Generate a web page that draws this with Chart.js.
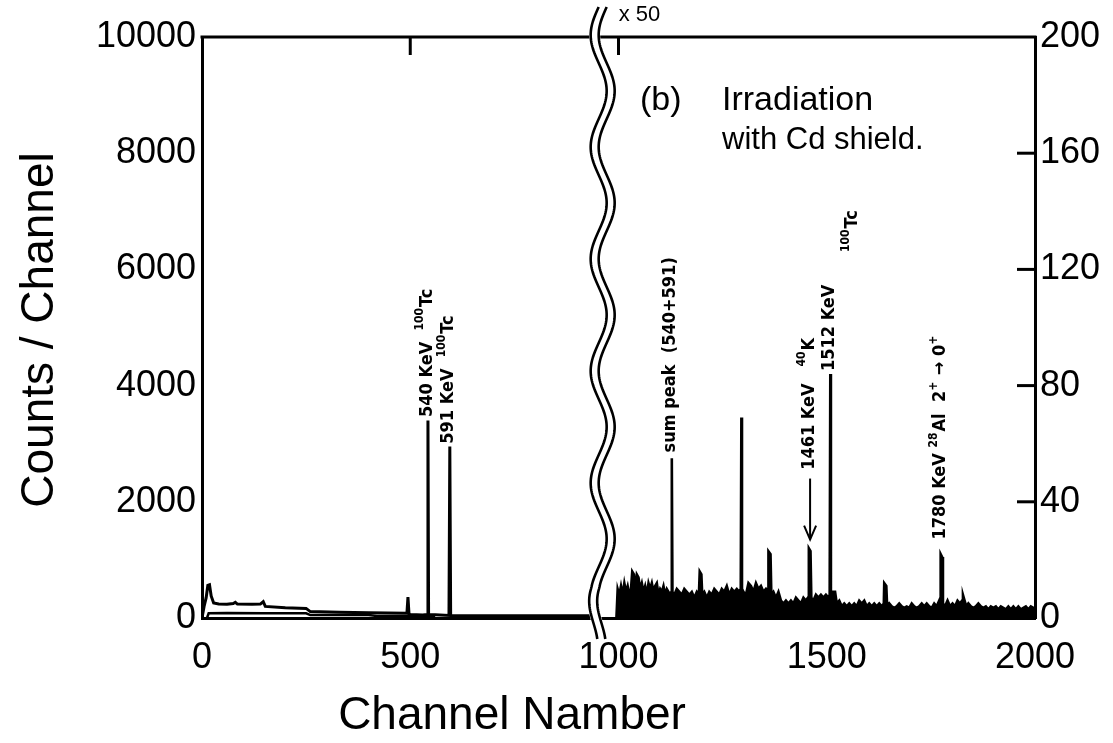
<!DOCTYPE html>
<html>
<head>
<meta charset="utf-8">
<script src="https://cdn.jsdelivr.net/npm/chart.js@4/dist/chart.umd.min.js"></script>
<style>
  html, body { margin: 0; padding: 0; background: #fff; }
  #wrap { width: 1113px; height: 743px; }
</style>
</head>
<body>
<div id="wrap"><canvas id="spectrum" width="1113" height="743"></canvas></div>
<script>
// channel ticks and axis ranges
const xTicks = [0, 500, 1000, 1500, 2000];
const leftTicks = [0, 2000, 4000, 6000, 8000, 10000];
const rightTicks = [0, 40, 80, 120, 160, 200];

// low part of the spectrum, counts/channel (left scale)
const lowChannels = [0, 5, 10, 14, 18, 22, 28, 40, 60, 75, 80, 85, 120, 140, 147, 152, 200, 250, 260, 330, 400, 492, 494.5, 497, 500, 530, 541, 542.5, 544, 560, 593, 595, 597, 620, 700, 800, 935];
const lowCounts = [0, 200, 350, 560, 570, 380, 260, 240, 235, 250, 270, 240, 235, 240, 280, 200, 175, 165, 110, 100, 90, 80, 360, 70, 60, 50, 60, 3400, 60, 55, 45, 2950, 45, 40, 40, 40, 40];
// lower trace of the low part
const lowTraceChannels = [12, 16, 60, 150, 250, 260, 400, 420, 560];
const lowTraceCounts = [0, 80, 85, 80, 80, 50, 50, 35, 35];

// high part, drawn x 50 (right scale)
const highChannels = [
  995, 998, 1002, 1006, 1010, 1014, 1018, 1022, 1026, 1030, 1033, 1037, 1040, 1044, 1048, 1052, 1056, 1060,
  1064, 1068, 1072, 1076, 1080, 1084, 1088, 1092, 1096, 1100, 1104, 1108, 1112, 1116, 1120, 1124, 1127, 1128,
  1129.5, 1134, 1140, 1146, 1152, 1158, 1164, 1170, 1176, 1182, 1188, 1193, 1195, 1199, 1201, 1206, 1212, 1218,
  1224, 1230, 1236, 1242, 1248, 1254, 1260, 1266, 1272, 1278, 1284, 1290, 1293.5, 1295, 1296.5, 1300, 1306, 1312,
  1318, 1324, 1330, 1336, 1342, 1348, 1354, 1359, 1360, 1365, 1367, 1372, 1378, 1384, 1390, 1396, 1402, 1408,
  1414, 1420, 1426, 1432, 1438, 1444, 1450, 1455, 1457, 1461, 1463, 1468, 1474, 1480, 1486, 1492, 1498, 1504,
  1507, 1508.5, 1510, 1514, 1520, 1524, 1530, 1536, 1542, 1548, 1554, 1560, 1566, 1572, 1578, 1584, 1590, 1596,
  1602, 1608, 1614, 1620, 1626, 1632, 1637, 1638, 1643, 1645, 1650, 1656, 1662, 1668, 1674, 1680, 1686, 1692,
  1698, 1704, 1710, 1716, 1722, 1728, 1734, 1740, 1746, 1752, 1758, 1764, 1770, 1772, 1773.5, 1777, 1779, 1784,
  1790, 1796, 1802, 1808, 1814, 1820, 1825, 1827, 1831, 1835, 1840, 1846, 1852, 1858, 1864, 1870, 1876, 1882,
  1888, 1894, 1900, 1906, 1912, 1918, 1924, 1930, 1936, 1942, 1948, 1954, 1960, 1966, 1972, 1978, 1984, 1990,
  1996, 2000
];
const highCounts = [
  0, 10, 8, 11, 8, 12, 9, 11, 8, 10, 16, 15, 9, 15, 14, 10, 12, 9,
  11, 8, 12, 10, 12, 9, 11, 12, 8, 10, 9, 11, 8, 10, 9, 8, 9, 55,
  9, 8, 10, 9, 8, 10, 9, 8, 9, 7, 9, 8, 16, 15, 8, 9, 7, 9,
  8, 10, 9, 8, 10, 9, 11, 8, 10, 9, 10, 9, 10, 69, 10, 9, 8, 12,
  11, 9, 12, 10, 11, 9, 10, 9, 23, 22, 8, 9, 7, 9, 6, 5, 6, 5,
  6, 5, 7, 6, 5, 7, 6, 7, 24, 23, 7, 6, 8, 7, 8, 7, 8, 7,
  8, 84, 8, 9, 9, 5, 6, 4, 5, 4, 5, 4, 5, 4, 6, 5, 6, 4,
  5, 4, 5, 4, 5, 4, 5, 12, 11, 4, 5, 4, 3.5, 4, 5, 4, 3.5, 4,
  3.5, 5, 4, 3.5, 4, 5, 4, 5, 4, 3.5, 5, 4, 6, 5, 22, 21, 5, 4,
  6, 4, 5, 4, 6, 5, 6, 8, 6, 4, 5, 4, 3.5, 4, 5, 4, 3.5, 4,
  3, 4, 3.5, 4, 3, 4, 3.5, 3, 4, 3, 4, 3, 4, 3, 3.5, 4, 3, 4,
  3.5, 3.5
];

// peak annotations: text parts [text, superscript], channel, value where the text starts, axis
const peakTexts = [
  [['540 KeV  ', false], ['100', true], ['Tc', false]],
  [['591 KeV  ', false], ['100', true], ['Tc', false]],
  [['sum peak  (540+591)', false]],
  [['1461 KeV   ', false], ['40', true], ['K', false]],
  [['1512 KeV', false]],
  [['1780 KeV ', false], ['28', true], ['Al  2', false], ['+', true], [' \u2192 0', false], ['+', true]]
];
const peakChannels = [542.5, 595, 1128, 1460, 1508.5, 1775];
const peakTextAt = [3460, 3000, 57, 51, 85, 27];
const peakAxes = ['y', 'y', 'y2', 'y2', 'y2', 'y2'];

const breakChannel = 962;

const labelFamily = '"DejaVu Sans Condensed", "DejaVu Sans", sans-serif';
const textFamily = '"Liberation Sans", Arial, sans-serif';

function pts(xs, ys) {
  return xs.map((v, i) => ({ x: v, y: ys[i] }));
}

function line(ctx, x1, y1, x2, y2) {
  ctx.beginPath();
  ctx.moveTo(x1, y1);
  ctx.lineTo(x2, y2);
  ctx.stroke();
}

function drawVertical(ctx, parts, x, y, size) {
  ctx.save();
  ctx.translate(x, y);
  ctx.rotate(-Math.PI / 2);
  ctx.textAlign = 'left';
  ctx.textBaseline = 'middle';
  let cx = 0;
  parts.forEach(([t, sup]) => {
    ctx.font = 'bold ' + (sup ? Math.round(size * 0.65) : size) + 'px ' + labelFamily;
    ctx.fillText(t, cx, sup ? -size * 0.38 : 0);
    cx += ctx.measureText(t).width + (sup ? 1 : 0);
  });
  ctx.restore();
}

const decorations = {
  id: 'decorations',
  afterDraw(chart) {
    const { ctx, chartArea: a, scales: { x, y, y2 } } = chart;
    ctx.save();
    ctx.strokeStyle = '#000';
    ctx.fillStyle = '#000';
    ctx.lineWidth = 3;
    ctx.lineCap = 'butt';

    // top frame and inner ticks
    line(ctx, a.left - 1.5, a.top, a.right + 1.5, a.top);
    [500, 1000].forEach(c => {
      const px = x.getPixelForValue(c);
      line(ctx, px, a.top, px, a.top + 18);
    });
    rightTicks.slice(1, -1).forEach(v => {
      const py = y2.getPixelForValue(v);
      line(ctx, a.right - 18, py, a.right, py);
    });

    // axis break (double wavy line)
    const bx = x.getPixelForValue(breakChannel);
    const y0 = a.top - 30, y1 = a.bottom + 22;
    const wave = (yy) => bx - 8 * Math.sin(2 * Math.PI * (yy - y0) / 112) - (yy > a.bottom - 30 ? (yy - (a.bottom - 30)) * 0.15 : 0);
    const path = (dx) => {
      ctx.beginPath();
      for (let yy = y0; yy <= y1; yy += 2) {
        const xx = wave(yy) + dx;
        if (yy === y0) ctx.moveTo(xx, yy); else ctx.lineTo(xx, yy);
      }
    };
    ctx.strokeStyle = '#fff';
    ctx.lineWidth = 11;
    path(0); ctx.stroke();
    ctx.strokeStyle = '#000';
    ctx.lineWidth = 2.6;
    path(-4); ctx.stroke();
    path(4); ctx.stroke();

    // x 50 mark
    ctx.font = '22px ' + textFamily;
    ctx.textAlign = 'left';
    ctx.textBaseline = 'middle';
    ctx.fillText('x 50', bx + 16, 15);

    // panel caption
    ctx.font = '34px ' + textFamily;
    ctx.fillText('(b)', 640, 101);
    ctx.fillText('Irradiation', 722, 101);
    ctx.font = '31px ' + textFamily;
    ctx.fillText('with Cd shield.', 722, 140);

    // peak labels
    peakTexts.forEach((parts, i) => {
      const sc = peakAxes[i] === 'y' ? y : y2;
      const px = x.getPixelForValue(peakChannels[i]);
      drawVertical(ctx, parts, px - 1, sc.getPixelForValue(peakTextAt[i]), 18);
    });
    drawVertical(ctx, [['100', true], ['Tc', false]], x.getPixelForValue(1508.5) + 22, y2.getPixelForValue(126), 18);

    // arrow to the 1461 peak
    const ax = x.getPixelForValue(1460);
    const ay1 = y2.getPixelForValue(48), ay2 = y2.getPixelForValue(27);
    ctx.lineWidth = 2;
    line(ctx, ax, ay1, ax, ay2);
    ctx.beginPath();
    ctx.moveTo(ax - 6, ay2 - 14);
    ctx.lineTo(ax, ay2);
    ctx.lineTo(ax + 6, ay2 - 14);
    ctx.stroke();

    // axis titles
    ctx.font = '46px ' + textFamily;
    ctx.textAlign = 'center';
    ctx.fillText('Channel Namber', 512, 716);
    ctx.save();
    ctx.translate(40, 330);
    ctx.rotate(-Math.PI / 2);
    ctx.fillText('Counts / Channel', 0, 0);
    ctx.restore();

    ctx.restore();
  }
};

const tickFont = { family: textFamily, size: 36 };
const plain = v => String(v);

new Chart(document.getElementById('spectrum'), {
  type: 'line',
  data: {
    datasets: [
      {
        data: pts(lowChannels, lowCounts),
        yAxisID: 'y',
        borderColor: '#000',
        borderWidth: 3,
        pointRadius: 0,
        tension: 0,
        fill: false
      },
      {
        data: pts(lowTraceChannels, lowTraceCounts),
        yAxisID: 'y',
        borderColor: '#000',
        borderWidth: 2.5,
        pointRadius: 0,
        tension: 0,
        fill: false
      },
      {
        data: pts(highChannels, highCounts),
        yAxisID: 'y2',
        borderColor: '#000',
        backgroundColor: '#000',
        borderWidth: 2.6,
        pointRadius: 0,
        tension: 0,
        fill: 'origin'
      }
    ]
  },
  options: {
    responsive: false,
    animation: false,
    layout: { padding: { top: 37, left: 0, right: 0, bottom: 0 } },
    plugins: { legend: { display: false }, tooltip: { enabled: false } },
    scales: {
      x: {
        type: 'linear',
        min: 0,
        max: 2000,
        afterBuildTicks: s => { s.ticks = xTicks.map(v => ({ value: v })); },
        afterFit: s => { s.height = 125; },
        grid: { display: false, drawTicks: false },
        border: { display: true, color: '#000', width: 3 },
        ticks: { color: '#000', font: tickFont, padding: 18, maxRotation: 0, callback: plain }
      },
      y: {
        position: 'left',
        min: 0,
        max: 10000,
        afterBuildTicks: s => { s.ticks = leftTicks.map(v => ({ value: v })); },
        afterFit: s => { s.width = 202; },
        grid: { display: false, drawTicks: false },
        border: { display: true, color: '#000', width: 3 },
        ticks: { color: '#000', font: tickFont, padding: 6, callback: plain }
      },
      y2: {
        position: 'right',
        min: 0,
        max: 200,
        afterBuildTicks: s => { s.ticks = rightTicks.map(v => ({ value: v })); },
        afterFit: s => { s.width = 78; },
        grid: { display: false, drawTicks: false },
        border: { display: true, color: '#000', width: 3 },
        ticks: { color: '#000', font: tickFont, padding: 5, callback: plain }
      }
    }
  },
  plugins: [decorations]
});
</script>
</body>
</html>
